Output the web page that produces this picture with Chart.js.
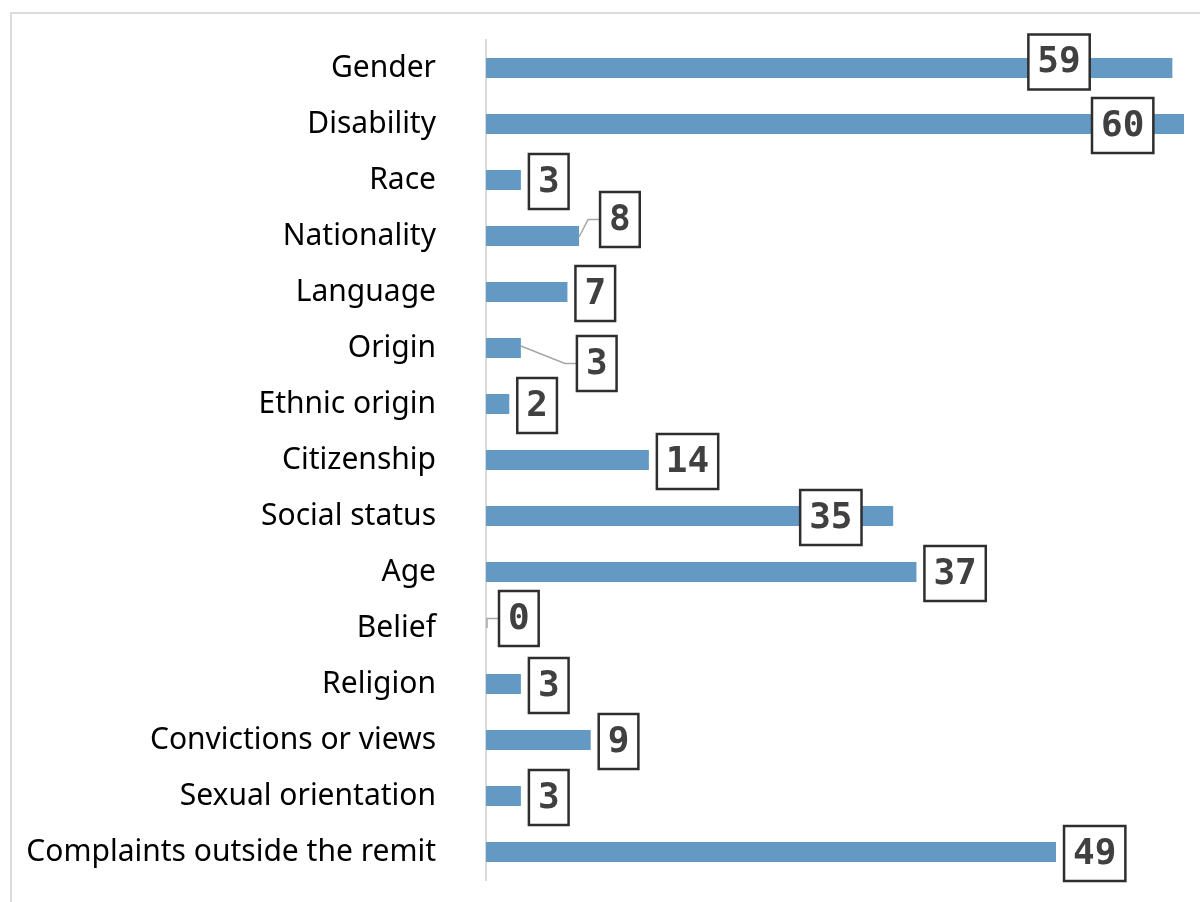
<!DOCTYPE html>
<html>
<head>
<meta charset="utf-8">
<script src="https://cdn.jsdelivr.net/npm/chart.js@4"></script>
<style>
  html, body { margin: 0; padding: 0; background: #fff; }
  body { width: 1200px; height: 902px; position: relative; overflow: hidden; }
  .frame { position: absolute; left: 10px; top: 12px; width: 1220px; height: 920px; border: 2px solid #dcdcdc; box-sizing: border-box; }
  .wrap { position: absolute; left: 0; top: 0; width: 1200px; height: 902px; }
</style>
</head>
<body>
<div class="frame"></div>
<div class="wrap"><canvas id="grounds" width="1200" height="902"></canvas></div>
<script>
const categories = [
  "Gender", "Disability", "Race", "Nationality", "Language", "Origin",
  "Ethnic origin", "Citizenship", "Social status", "Age", "Belief",
  "Religion", "Convictions or views", "Sexual orientation",
  "Complaints outside the remit"
];
const complaints = [59, 60, 3, 8, 7, 3, 2, 14, 35, 37, 0, 3, 9, 3, 49];

// where a value box sits: dx = box left edge relative to bar end,
// dy = box centre relative to bar centre, lead = draw a leader line
const boxPlacement = {
  0: { dx: -144, dy: -6 },
  1: { dx: -92, dy: 1.5 },
  3: { dx: 21, dy: -16.5, lead: true },
  5: { dx: 56, dy: 15.5, lead: true },
  8: { dx: -93, dy: 1.5 },
  10: { dx: 13, dy: -9.5, lead: true }
};

const valueBoxes = {
  id: "valueBoxes",
  afterDatasetsDraw(chart) {
    const ctx = chart.ctx;
    const meta = chart.getDatasetMeta(0);
    ctx.save();
    ctx.font = "bold 36px 'DejaVu Sans Mono'";
    ctx.textAlign = "center";
    ctx.textBaseline = "middle";
    meta.data.forEach((bar, i) => {
      const p = boxPlacement[i] || { dx: 8, dy: 1.5 };
      const txt = String(complaints[i]);
      const w = ctx.measureText(txt).width + 18;
      const h = 55;
      const left = bar.x + p.dx;
      const cy = bar.y + p.dy;
      if (p.lead) {
        ctx.strokeStyle = "#a6a6a6";
        ctx.lineWidth = 1.5;
        ctx.beginPath();
        if (complaints[i] === 0) {
          // zero-length bar: small elbow off the axis
          ctx.moveTo(bar.x + 1, bar.y);
          ctx.lineTo(bar.x + 1, cy);
        } else if (p.dy < 0) {
          ctx.moveTo(bar.x, bar.y + 1);
          ctx.lineTo(bar.x + Math.min(9, p.dx - 2), cy);
        } else {
          ctx.moveTo(bar.x, bar.y - 2);
          ctx.lineTo(left - 12, cy);
        }
        ctx.lineTo(left, cy);
        ctx.stroke();
      }
      ctx.fillStyle = "#fff";
      ctx.fillRect(left, cy - h / 2, w, h);
      ctx.strokeStyle = "#2e2e2e";
      ctx.lineWidth = 2.5;
      ctx.strokeRect(left, cy - h / 2, w, h);
      ctx.fillStyle = "#404040";
      ctx.fillText(txt, left + w / 2, cy + 1);
    });
    ctx.restore();
  }
};

new Chart(document.getElementById("grounds"), {
  type: "bar",
  data: {
    labels: categories,
    datasets: [{
      data: complaints,
      backgroundColor: "#6499c3",
      borderWidth: 0,
      barPercentage: 0.357,
      categoryPercentage: 1.0
    }]
  },
  options: {
    indexAxis: "y",
    responsive: false,
    animation: false,
    devicePixelRatio: 1,
    layout: { padding: { top: 40, bottom: 22, right: 16, left: 0 } },
    plugins: {
      legend: { display: false },
      tooltip: { enabled: false }
    },
    scales: {
      x: {
        display: false,
        min: 0,
        max: 60
      },
      y: {
        grid: { display: false },
        border: { display: true, color: "#d9d9d9", width: 2 },
        ticks: {
          color: "#000",
          padding: 42,
          font: { family: "'Noto Sans'", size: 30 }
        },
        afterFit(scale) {
          scale.width = 486;
          scale.paddingTop = 0;
          scale.paddingBottom = 0;
        }
      }
    }
  },
  plugins: [valueBoxes]
});
</script>
</body>
</html>
